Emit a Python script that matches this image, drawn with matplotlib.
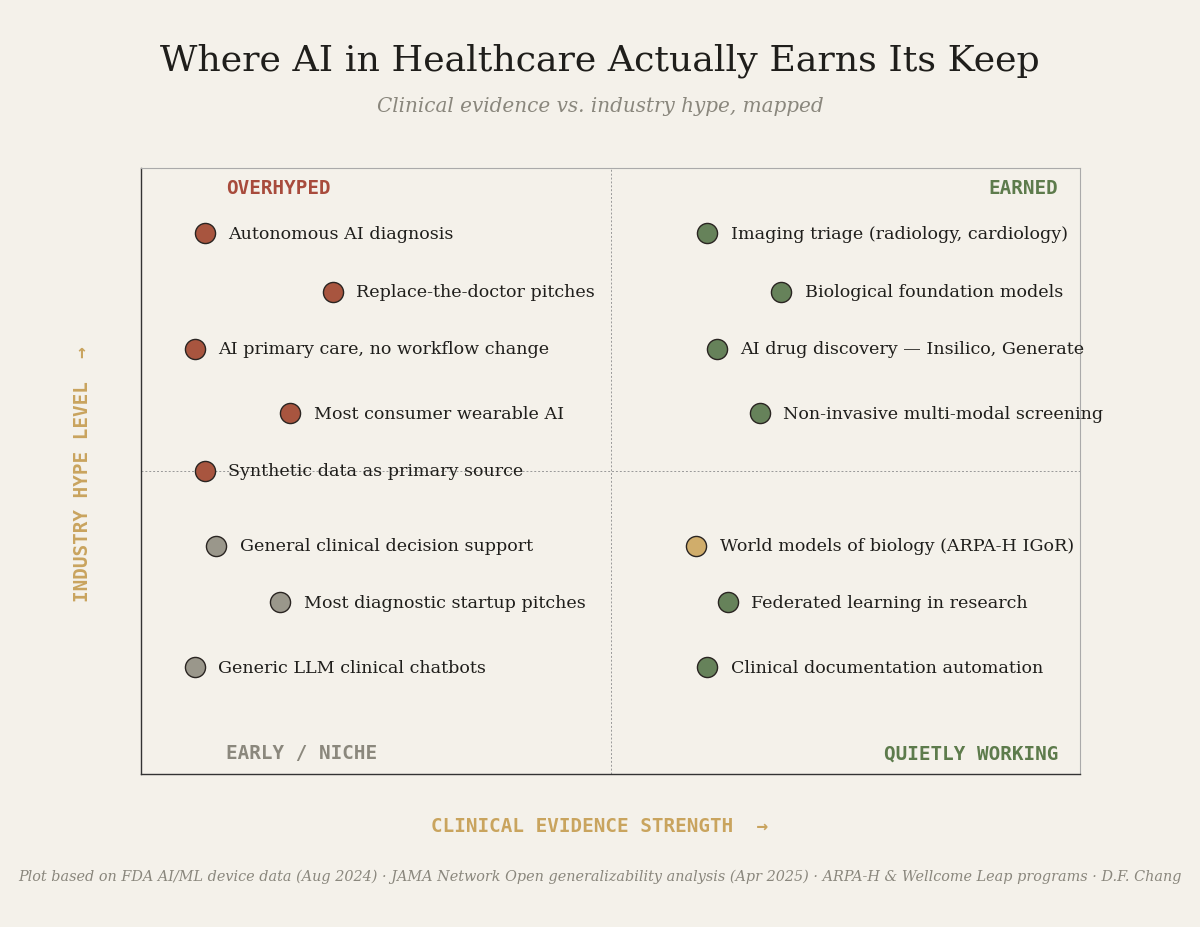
import matplotlib
matplotlib.use("Agg")
import matplotlib.pyplot as plt

BG = "#f4f1ea"
RED = "#a8553f"
GREEN = "#66825a"
GREY = "#9a978b"
GOLD = "#d0ad6b"
LABEL_GOLD = "#c9a45e"
INK = "#1f1e1b"

# ---- data ----
labels = [
    "Autonomous AI diagnosis",
    "Replace-the-doctor pitches",
    "AI primary care, no workflow change",
    "Most consumer wearable AI",
    "Synthetic data as primary source",
    "General clinical decision support",
    "Most diagnostic startup pitches",
    "Generic LLM clinical chatbots",
    "Imaging triage (radiology, cardiology)",
    "Biological foundation models",
    "AI drug discovery \u2014 Insilico, Generate",
    "Non-invasive multi-modal screening",
    "World models of biology (ARPA-H IGoR)",
    "Federated learning in research",
    "Clinical documentation automation",
]
evidence = [0.68, 2.04, 0.57, 1.59, 0.68, 0.80, 1.48, 0.57,
            6.03, 6.82, 6.13, 6.59, 5.91, 6.25, 6.03]
hype = [8.92, 7.96, 7.02, 5.95, 5.00, 3.77, 2.83, 1.76,
        8.92, 7.96, 7.02, 5.95, 3.77, 2.83, 1.76]
group = ["over", "over", "over", "over", "over", "early", "early", "early",
         "earned", "earned", "earned", "earned", "frontier", "earned", "earned"]

colors = {"over": RED, "early": GREY, "earned": GREEN, "frontier": GOLD}

fig = plt.figure(figsize=(12, 9.28), dpi=100, facecolor=BG)
ax = fig.add_axes([0.1175, 0.1649, 0.7825, 0.653])
ax.set_facecolor(BG)
ax.set_xlim(0, 10)
ax.set_ylim(0, 10)
ax.set_xticks([])
ax.set_yticks([])

for side in ["left", "bottom"]:
    ax.spines[side].set_color("#333333")
    ax.spines[side].set_linewidth(1.0)
for side in ["top", "right"]:
    ax.spines[side].set_color("#aaaaaa")
    ax.spines[side].set_linewidth(0.8)

ax.axvline(5, color="#999999", lw=0.7, ls=(0, (2, 2)), zorder=1)
ax.axhline(5, color="#999999", lw=0.7, ls=(0, (2, 2)), zorder=1)

for lab, x, y, g in zip(labels, evidence, hype, group):
    ax.scatter(x, y, s=210, color=colors[g], edgecolor="#2a2522", linewidth=1.0, zorder=3)
    ax.annotate(lab, (x, y), xytext=(17, 0), textcoords="offset points",
                va="center", ha="left", fontsize=12.6, family="DejaVu Serif",
                color=INK, zorder=4)

# quadrant names
qfont = dict(family="DejaVu Sans Mono", fontweight="bold", fontsize=13.9)
ax.text(0.91, 9.67, "OVERHYPED", color="#a84b3c", ha="left", va="center", **qfont)
ax.text(9.77, 9.67, "EARNED", color="#5d7b4c", ha="right", va="center", **qfont)
ax.text(0.91, 0.35, "EARLY / NICHE", color="#8b887d", ha="left", va="center", **qfont)
ax.text(9.77, 0.35, "QUIETLY WORKING", color="#5d7b4c", ha="right", va="center", **qfont)

# axis labels
fig.text(0.5, 1 - 827 / 928, "CLINICAL EVIDENCE STRENGTH  \u2192", ha="center", va="center",
         color=LABEL_GOLD, family="DejaVu Sans Mono", fontsize=13.9, fontweight="bold")
fig.text(82 / 1200, 1 - 474 / 928, "INDUSTRY HYPE LEVEL  \u2192", ha="center", va="center",
         rotation=90, color=LABEL_GOLD, family="DejaVu Sans Mono", fontsize=13.9,
         fontweight="bold")

# titles
fig.text(0.5, 1 - 61 / 928, "Where AI in Healthcare Actually Earns Its Keep", ha="center",
         va="center", fontsize=26.2, family="DejaVu Serif", color=INK)
fig.text(0.5, 1 - 107 / 928, "Clinical evidence vs. industry hype, mapped", ha="center",
         va="center", fontsize=14.4, family="DejaVu Serif", style="italic", color="#8a877d")
fig.text(0.5, 1 - 877 / 928,
         "Plot based on FDA AI/ML device data (Aug 2024) \u00b7 JAMA Network Open generalizability "
         "analysis (Apr 2025) \u00b7 ARPA-H & Wellcome Leap programs \u00b7 D.F. Chang",
         ha="center", va="center", fontsize=10.4, family="DejaVu Serif", style="italic",
         color="#8a877d")

fig.savefig("out.png", dpi=100, facecolor=BG)
